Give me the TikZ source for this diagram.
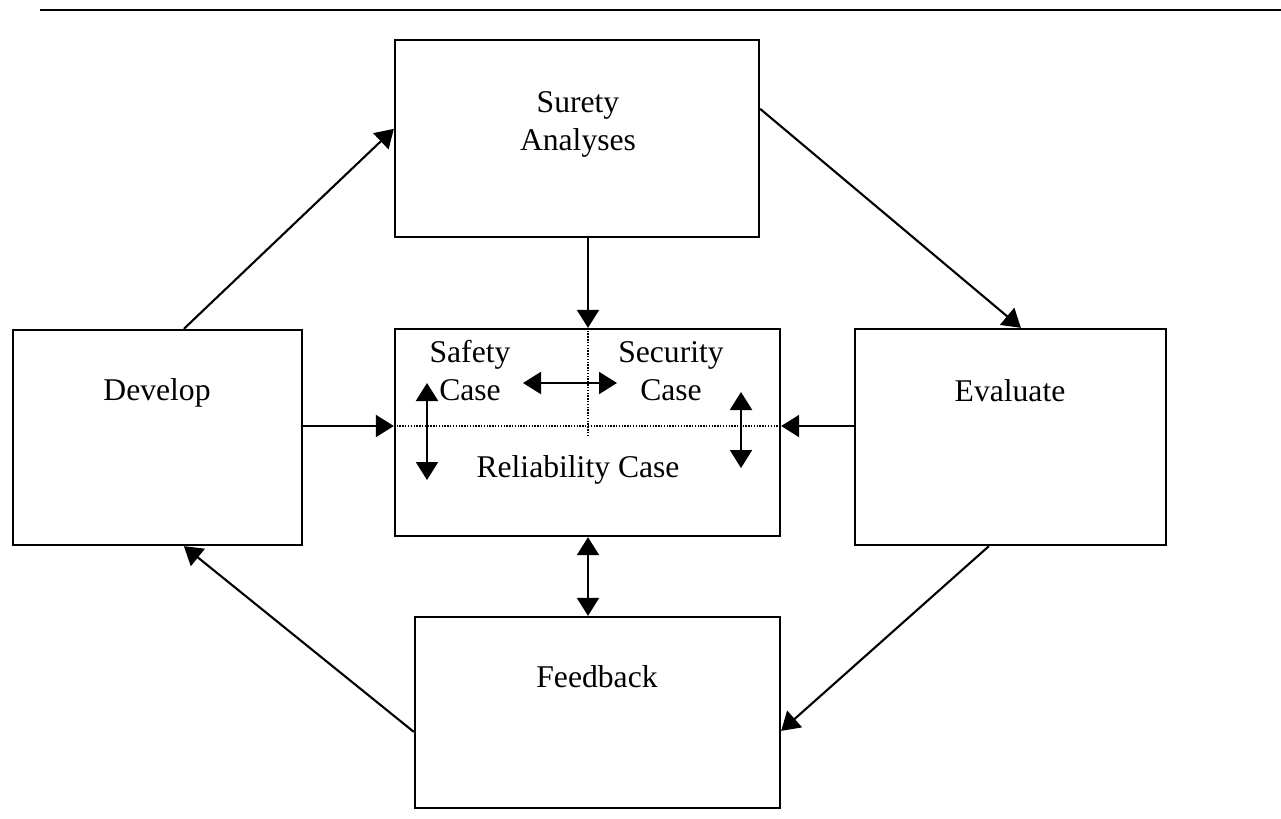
\documentclass[tikz,border=0pt]{standalone}
\usepackage{fontspec}
\setmainfont{Liberation Serif}
\usepackage{tikz}
\usetikzlibrary{arrows.meta}

\begin{document}
\begin{tikzpicture}[x=0.025cm, y=-0.025cm,
  box/.style={draw, line width=1.6pt, inner sep=0pt},
  txt/.style={font=\fontsize{22.5}{27}\selectfont, align=center, anchor=base, inner sep=0pt},
  arr/.style={line width=1.5pt, -{Triangle[length=0.45cm, width=0.55cm]}},
  darr/.style={line width=1.5pt, {Triangle[length=0.45cm, width=0.55cm]}-{Triangle[length=0.45cm, width=0.55cm]}},
  divline/.style={line width=0.8pt, dash pattern=on 1pt off 1pt}]

\useasboundingbox (0,0) rectangle (1281,818);
\draw[line width=1.6pt] (40,10) -- (1281,10);

% boxes
\node[box, minimum width=9.1cm, minimum height=4.925cm] (sur) at (577,138.5) {};
\node[box, minimum width=7.225cm, minimum height=5.375cm] (dev) at (157.5,437.5) {};
\node[box, minimum width=9.625cm, minimum height=5.175cm] (cas) at (587.5,432.5) {};
\node[box, minimum width=7.775cm, minimum height=5.4cm] (evl) at (1010.5,437) {};
\node[box, minimum width=9.125cm, minimum height=4.775cm] (fbk) at (597.5,712.5) {};

% labels
\node[txt] (surtxt) at (578,150) {Surety\\Analyses};
\node[txt] (devtxt) at (157,400) {Develop};
\node[txt] (evltxt) at (1010,401) {Evaluate};
\node[txt] (fbktxt) at (597,687) {Feedback};
\node[txt] (saftxt) at (470,400) {Safety\\Case};
\node[txt] (sectxt) at (671,400) {Security\\Case};
\node[txt] (reltxt) at (578,477) {Reliability Case};

% dotted split of the case box
\coordinate (cross) at (588,426);
\coordinate (divend) at (588,435);
\draw[divline] (cas.west |- cross) -- (cas.east |- cross);
\draw[divline] (cas.north -| cross) -- (divend);

% arrows inside the case box
\coordinate (hl) at (523,383);
\coordinate (hr) at (617,383);
\coordinate (lt) at (427,383);
\coordinate (lb) at (427,480);
\coordinate (rt) at (741,392);
\coordinate (rb) at (741,468);
\draw[darr] (hl) -- (hr);
\draw[darr] (lt) -- (lb);
\draw[darr] (rt) -- (rb);

% cycle
\draw[arr] ([xshift=4.3cm]dev.north west) -- ([yshift=-2.25cm]sur.north west);
\draw[arr] ([yshift=-1.75cm]sur.north east) -- ([xshift=4.175cm]evl.north west);
\draw[arr] ([xshift=3.375cm]evl.south west) -- ([yshift=-2.875cm]fbk.north east);
\draw[arr] ([yshift=-2.9cm]fbk.north west) -- ([xshift=4.3cm]dev.south west);

% into the case box
\draw[arr] (sur.south -| cross) -- (cas.north -| cross);
\draw[arr] (dev.east |- cross) -- (cas.west |- cross);
\draw[arr] (evl.west |- cross) -- (cas.east |- cross);
\draw[darr] (cas.south -| cross) -- (fbk.north -| cross);
\end{tikzpicture}
\end{document}
